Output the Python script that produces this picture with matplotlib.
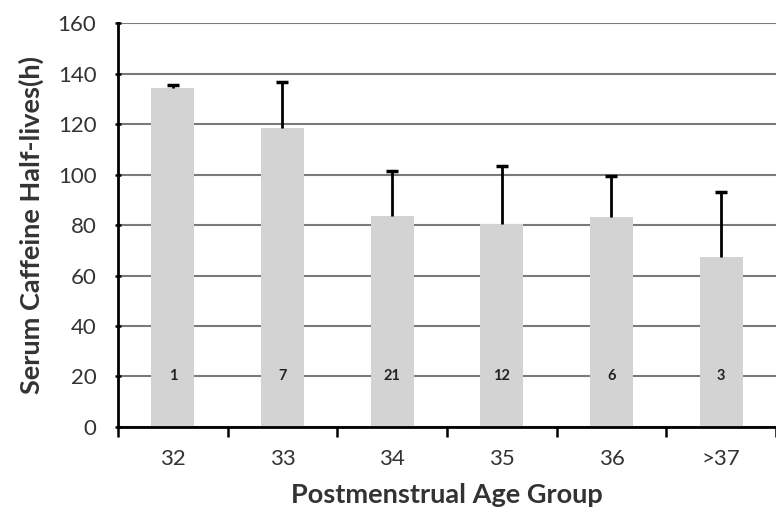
import matplotlib
matplotlib.use("Agg")
import matplotlib.pyplot as plt
import numpy as np

# data
groups = ["32", "33", "34", "35", "36", ">37"]
half_life = [134.5, 118.5, 83.5, 80.5, 83, 67.5]
err_top = [135.5, 136.5, 101.5, 103.5, 99.5, 93]
n_counts = ["1", "7", "21", "12", "6", "3"]

plt.rcParams['font.family'] = ['Lato', 'DejaVu Sans']

fig = plt.figure(figsize=(7.76, 5.15), dpi=100)
ax = fig.add_axes([0.152, 0.171, 0.848, 0.784])

x = np.arange(len(groups))

ax.bar(x, half_life, width=0.39, color='#d3d3d3', zorder=2)
# only the upper half of the error bar is drawn
ax.vlines(x, half_life, err_top, color='black', linewidth=2, zorder=3)
ax.plot(x, err_top, linestyle='none', marker='_', markersize=9,
        markeredgewidth=2.5, color='black', zorder=3)

for xi, n in zip(x, n_counts):
    ax.text(xi, 20, n, ha='center', va='center', fontsize=10.5, fontweight='bold',
            color='#222222', zorder=4)

ax.set_xlim(-0.5, len(groups) - 0.5)
ax.set_ylim(0, 160)
ax.set_yticks(range(0, 161, 20))
ax.set_xticks(x)
ax.set_xticklabels(groups, fontsize=16, color='#333333')
ax.tick_params(axis='x', length=0, pad=16)
ax.set_xticks(np.arange(-0.5, len(groups)), minor=True)
ax.tick_params(axis='x', which='minor', length=7, width=1.8, direction='out')
ax.tick_params(axis='y', length=5, width=1.8, direction='inout', labelsize=16,
               labelcolor='#333333', pad=13)

ax.grid(axis='y', color='#7a7a7a', linewidth=1.5, zorder=1)
ax.set_axisbelow(True)
for s in ['top', 'right']:
    ax.spines[s].set_visible(False)
for s in ['left', 'bottom']:
    ax.spines[s].set_linewidth(2)
    ax.spines[s].set_zorder(5)

ax.set_xlabel('Postmenstrual Age Group', fontsize=19.5, fontweight='bold',
              color='#333333', labelpad=10)
ax.set_ylabel('Serum Caffeine Half-lives(h)', fontsize=19.5, fontweight='bold',
              color='#333333', labelpad=10)

fig.savefig('out.png', dpi=100)
